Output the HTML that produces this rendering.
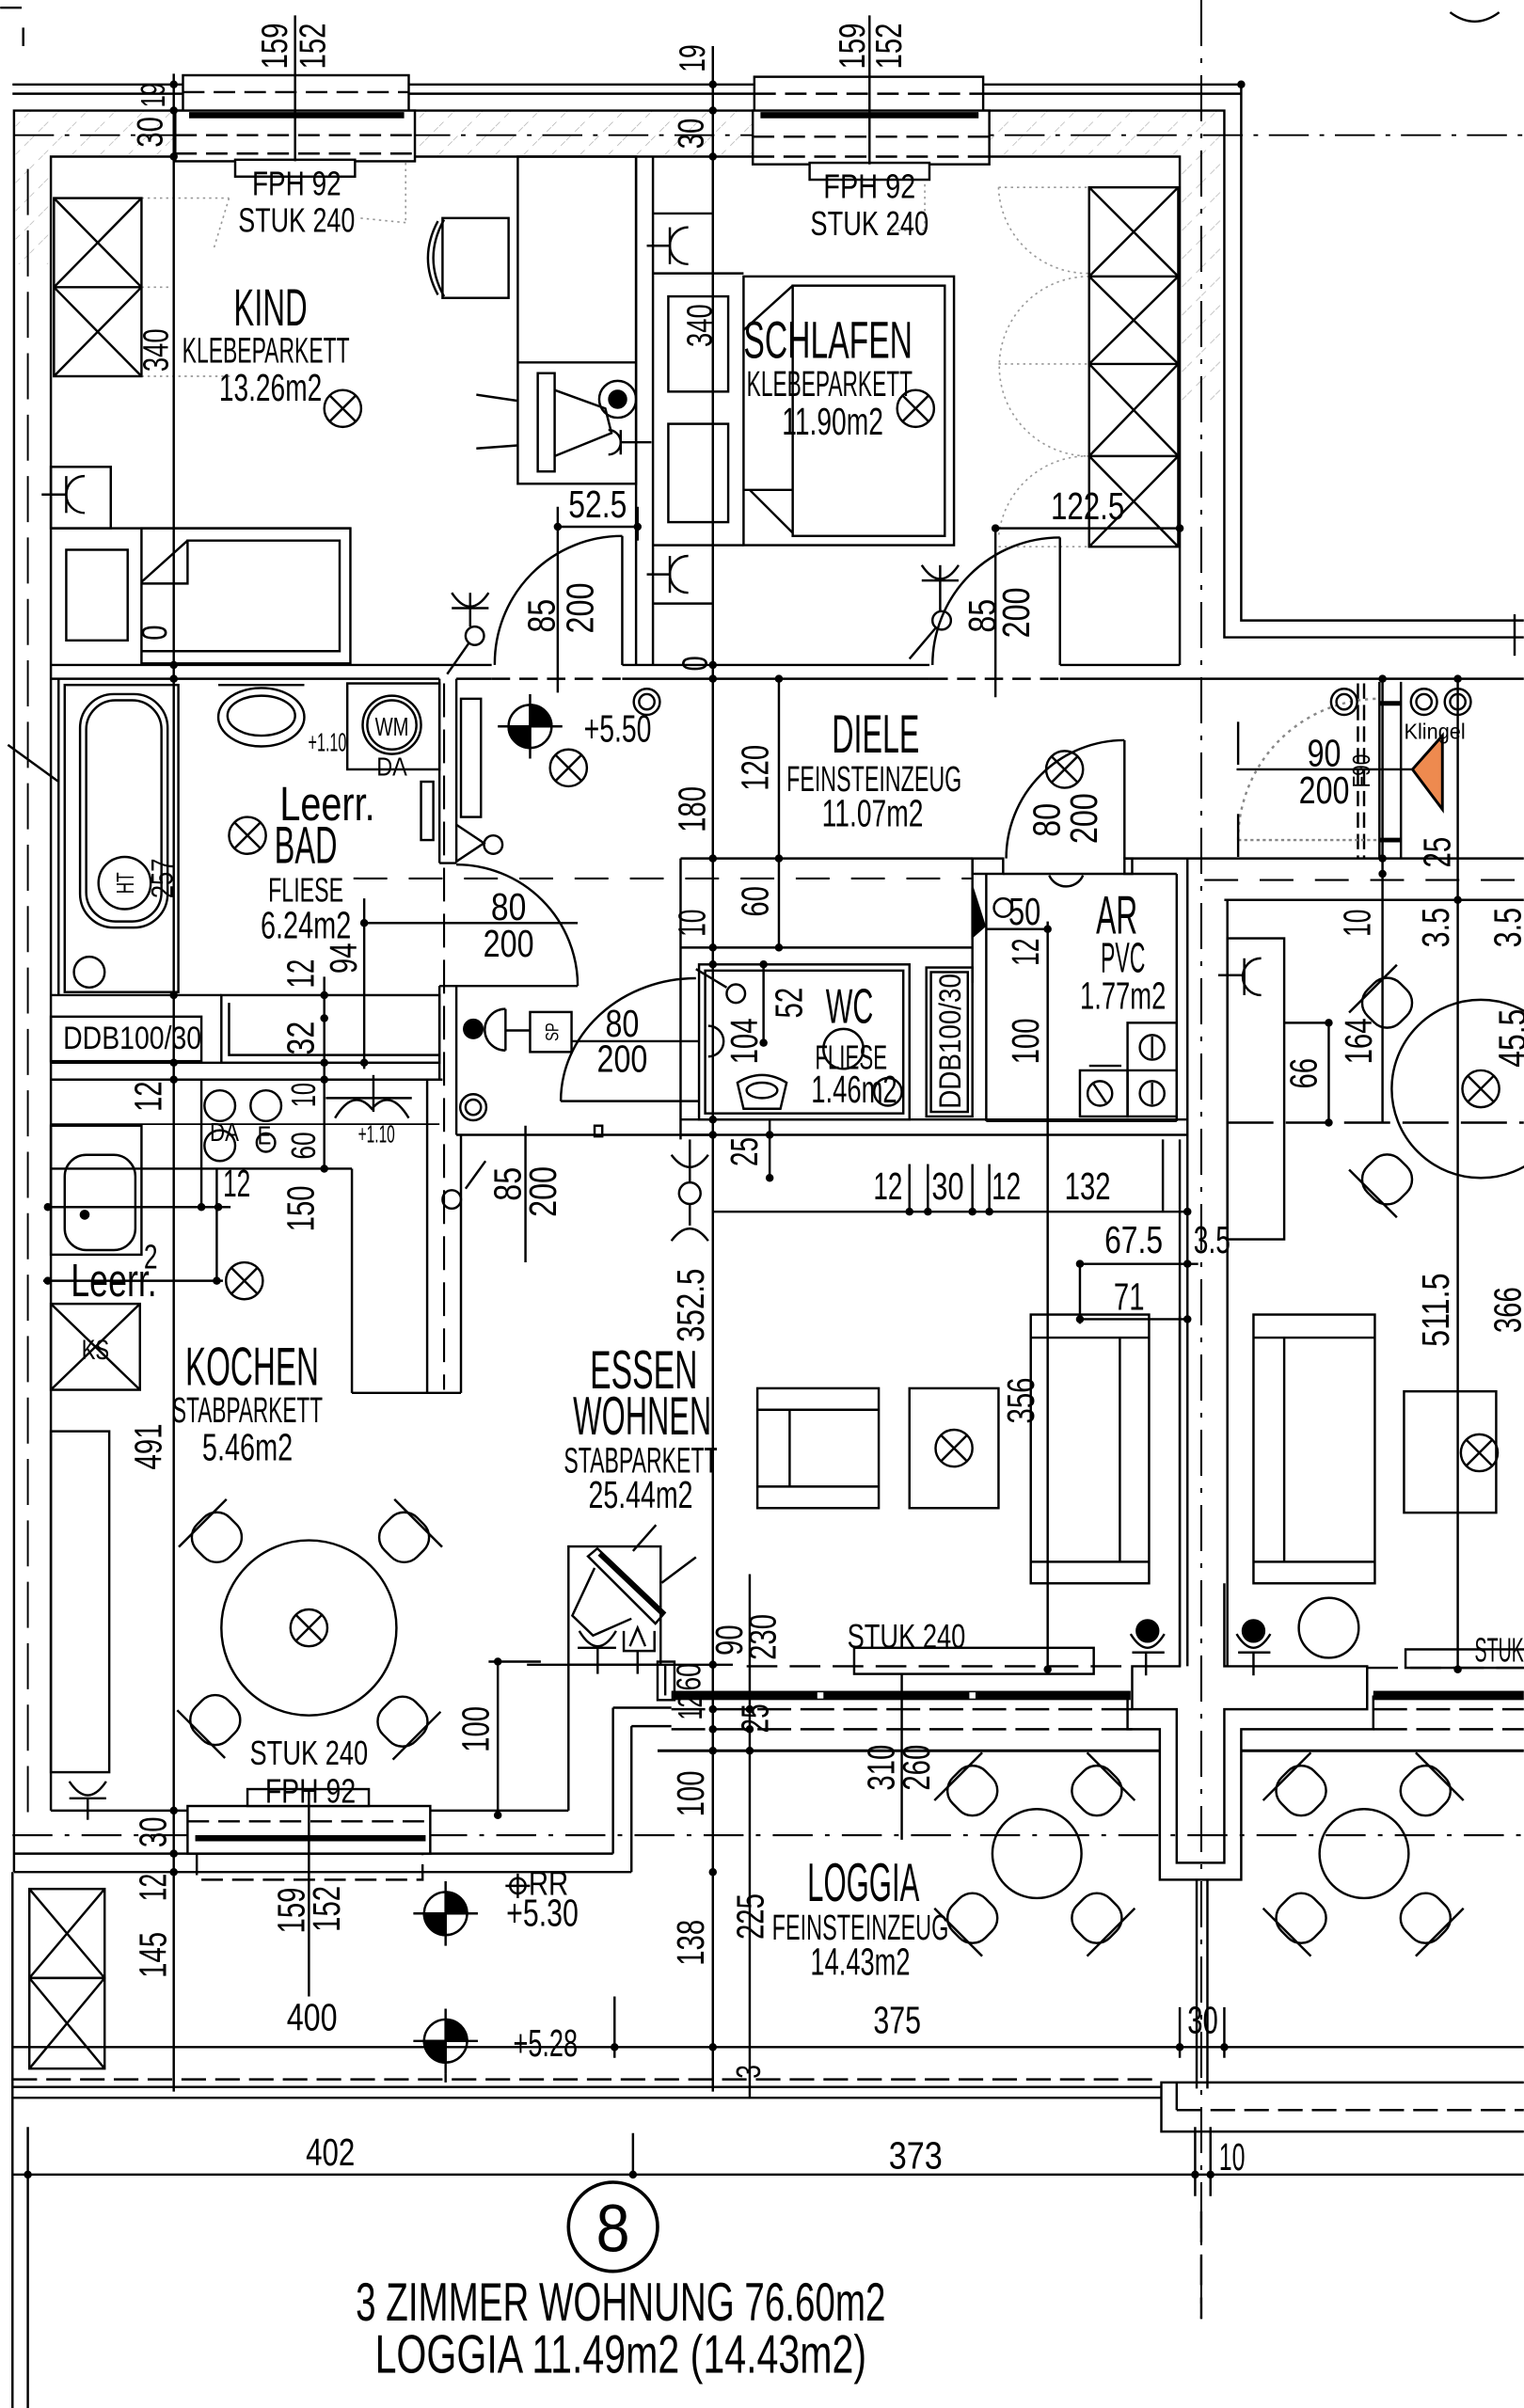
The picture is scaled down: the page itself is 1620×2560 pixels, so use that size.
<!DOCTYPE html>
<html><head><meta charset="utf-8">
<style>
html,body{margin:0;padding:0;background:#fff;}
svg{display:block;}
text{font-family:"Liberation Sans",sans-serif;fill:#000;stroke:none;}
</style></head><body>
<svg width="1620" height="2560" viewBox="0 0 992 1568" xmlns="http://www.w3.org/2000/svg">
<defs>
<pattern id="h" width="13" height="13" patternUnits="userSpaceOnUse" patternTransform="rotate(45)">
<line x1="0" y1="0" x2="0" y2="13" stroke="#aaa" stroke-width="0.8" stroke-dasharray="4 4"/>
</pattern>
<g id="ox"><circle r="12"/><line x1="-8.5" y1="-8.5" x2="8.5" y2="8.5"/><line x1="-8.5" y1="8.5" x2="8.5" y2="-8.5"/></g>
<circle id="d" r="2.6" fill="#000" stroke="none"/>
<g id="rg"><circle r="8.5"/><circle r="5"/></g>
<g id="lv"><circle r="14" fill="#fff"/><path d="M0,0 L14,0 A14,14 0 0 0 0,-14 Z M0,0 L-14,0 A14,14 0 0 0 0,14 Z" fill="#000"/><line x1="-21" y1="0" x2="21" y2="0"/><line x1="0" y1="-21" x2="0" y2="21"/></g>
<g id="ch"><rect x="-15" y="-15" width="30" height="30" rx="12"/><line x1="-22" y1="-13" x2="22" y2="-13"/></g>
</defs>
<rect width="992" height="1568" fill="#fff"/>

<!-- hatch bands -->
<g stroke="none" fill="url(#h)">
<rect x="9" y="72" width="105" height="30"/>
<rect x="270" y="72" width="220" height="30"/>
<rect x="644" y="72" width="153" height="30"/>
<rect x="9" y="102" width="24" height="70"/>
<rect x="768" y="102" width="29" height="160"/>
</g>

<!-- faint dotted swings -->
<g fill="none" stroke="#999" stroke-width="1" stroke-dasharray="1.5 2.5">
<line x1="92" y1="129" x2="149" y2="129"/>
<line x1="149" y1="129" x2="139" y2="162"/>
<line x1="92" y1="187" x2="112" y2="187"/>
<line x1="92" y1="245" x2="150" y2="245"/>
<line x1="264" y1="86" x2="264" y2="145"/>
<line x1="264" y1="145" x2="234" y2="142"/>
<line x1="650" y1="122" x2="709" y2="122"/>
<path d="M650,122 A58,58 0 0 0 709,178"/>
<path d="M709,180 A58,58 0 0 0 709,297"/>
<line x1="650" y1="237" x2="709" y2="237"/>
<path d="M709,297 A58,58 0 0 0 650,350"/>
<line x1="650" y1="356" x2="709" y2="356"/>
<line x1="602" y1="104" x2="602" y2="150"/>
<line x1="602" y1="150" x2="580" y2="150"/>
</g>

<g fill="none" stroke="#000" stroke-width="1.5">
<!-- top misc -->
<line x1="0" y1="5" x2="14" y2="5"/>
<line x1="15" y1="18" x2="15" y2="30"/>
<path d="M944,8 Q960,20 976,8"/>
<!-- facade -->
<polyline points="8,55 808,55 808,404 992,404"/>
<line x1="8" y1="61" x2="808" y2="61"/>
<polyline points="9,1219 9,72 797,72 797,415 992,415"/>
<line x1="986" y1="400" x2="986" y2="427"/>
<!-- axis lines -->
<line x1="9" y1="88" x2="992" y2="88" stroke-dasharray="26 7 3 7" stroke-width="1.2"/>
<line x1="782" y1="0" x2="782" y2="1510" stroke-dasharray="30 8 3 8" stroke-width="1.3"/>
<line x1="18" y1="110" x2="18" y2="1190" stroke-dasharray="30 10" stroke-width="1.2"/>
<line x1="289" y1="445" x2="289" y2="905" stroke-dasharray="22 8" stroke-width="1.3"/>
<line x1="230" y1="572" x2="633" y2="572" stroke-dasharray="22 14" stroke-width="1.3"/>
<line x1="784" y1="573" x2="992" y2="573" stroke-dasharray="22 14" stroke-width="1.3"/>
<line x1="8" y1="1195" x2="992" y2="1195" stroke-dasharray="26 8 3 8" stroke-width="1.3"/>

<!-- inner walls top -->
<polyline points="33,1179 33,102 768,102 768,433"/>
<line x1="414" y1="102" x2="414" y2="433"/>
<line x1="425" y1="102" x2="425" y2="433"/>

<!-- windows top -->
<rect x="119" y="49" width="147" height="24" fill="#fff"/>
<line x1="119" y1="60" x2="266" y2="60" stroke-dasharray="14 6"/>
<rect x="114" y="72" width="156" height="33" fill="#fff"/>
<line x1="123" y1="75" x2="263" y2="75" stroke-width="4"/>
<line x1="114" y1="88" x2="270" y2="88" stroke-dasharray="14 6"/>
<line x1="114" y1="100" x2="270" y2="100" stroke-dasharray="14 6"/>
<rect x="153" y="104" width="78" height="11" fill="#fff"/>
<line x1="192" y1="10" x2="192" y2="105"/>
<rect x="491" y="50" width="149" height="23" fill="#fff"/>
<line x1="491" y1="61" x2="640" y2="61" stroke-dasharray="14 6"/>
<rect x="490" y="72" width="154" height="35" fill="#fff"/>
<line x1="495" y1="75" x2="637" y2="75" stroke-width="4"/>
<line x1="490" y1="89" x2="644" y2="89" stroke-dasharray="14 6"/>
<line x1="490" y1="102" x2="644" y2="102" stroke-dasharray="14 6"/>
<rect x="527" y="106" width="78" height="11" fill="#fff"/>
<line x1="566" y1="10" x2="566" y2="107"/>

<!-- main dim verticals -->
<line x1="113" y1="48" x2="113" y2="1362"/>
<line x1="464" y1="30" x2="464" y2="1362"/>

<!-- KIND -->
<rect x="35" y="129" width="57" height="116"/>
<line x1="35" y1="187" x2="92" y2="187"/>
<path d="M35,129 L92,187 M92,129 L35,187 M35,187 L92,245 M92,187 L35,245"/>
<rect x="288" y="142" width="43" height="52"/>
<path d="M289,143 Q275,168 289,193 M285,144 Q272,168 285,192"/>
<rect x="337" y="102" width="77" height="213"/>
<line x1="337" y1="236" x2="414" y2="236"/>
<line x1="310" y1="257" x2="337" y2="261"/>
<line x1="310" y1="292" x2="337" y2="290"/>
<rect x="350" y="243" width="11" height="64"/>
<polyline points="361,254 394,266 398,282 361,297"/>
<circle cx="402" cy="260" r="12"/>
<circle cx="402" cy="260" r="5.5" fill="#000"/>
<path d="M396,280 A8,8 0 0 1 396,296"/>
<line x1="404" y1="280" x2="404" y2="296"/>
<line x1="404" y1="288" x2="424" y2="288"/>
<rect x="33" y="304" width="39" height="40"/>
<line x1="27" y1="322" x2="43" y2="322"/>
<line x1="43" y1="310" x2="43" y2="334"/>
<path d="M55,310 A12,12 0 0 0 55,334"/>
<line x1="33" y1="344" x2="228" y2="344"/>
<rect x="43" y="358" width="40" height="59"/>
<rect x="92" y="344" width="136" height="88"/>
<path d="M92,424 L221,424 L221,352 L122,352 L122,380 L92,380 M92,379 L122,352"/>
<line x1="405" y1="349" x2="405" y2="433"/>
<path d="M405,349 A83,83 0 0 0 322,433"/>
<line x1="363" y1="343" x2="415" y2="343"/>
<line x1="363" y1="330" x2="363" y2="451"/>
<line x1="415" y1="330" x2="415" y2="352"/>
<path d="M294,386 Q306,404 318,386"/>
<line x1="306" y1="386" x2="306" y2="408"/>
<line x1="294" y1="396" x2="318" y2="396"/>
<circle cx="309" cy="414" r="6"/>
<line x1="305" y1="419" x2="291" y2="439"/>

<!-- SCHLAFEN -->
<line x1="425" y1="139" x2="464" y2="139"/>
<line x1="425" y1="178" x2="484" y2="178"/>
<line x1="425" y1="355" x2="484" y2="355"/>
<line x1="425" y1="393" x2="464" y2="393"/>
<rect x="435" y="193" width="39" height="62"/>
<rect x="435" y="276" width="39" height="64"/>
<line x1="421" y1="160" x2="436" y2="160"/>
<line x1="436" y1="148" x2="436" y2="172"/>
<path d="M448,148 A12,12 0 0 0 448,172"/>
<line x1="421" y1="374" x2="436" y2="374"/>
<line x1="436" y1="362" x2="436" y2="386"/>
<path d="M448,362 A12,12 0 0 0 448,386"/>
<rect x="484" y="180" width="137" height="175"/>
<rect x="516" y="186" width="99" height="163"/>
<line x1="484" y1="215" x2="516" y2="186"/>
<line x1="484" y1="319" x2="516" y2="319"/>
<line x1="488" y1="319" x2="516" y2="347"/>
<rect x="709" y="122" width="58" height="234"/>
<line x1="709" y1="180" x2="767" y2="180"/>
<line x1="709" y1="237" x2="767" y2="237"/>
<line x1="709" y1="297" x2="767" y2="297"/>
<path d="M709,122 L767,180 M767,122 L709,180 M709,180 L767,237 M767,180 L709,237 M709,237 L767,297 M767,237 L709,297 M709,297 L767,356 M767,297 L709,356"/>
<line x1="690" y1="350" x2="690" y2="433"/>
<path d="M690,350 A83,83 0 0 0 607,433"/>
<line x1="648" y1="344" x2="768" y2="344"/>
<line x1="648" y1="344" x2="648" y2="454"/>
<path d="M600,368 Q612,386 624,368"/>
<line x1="612" y1="368" x2="612" y2="398"/>
<line x1="600" y1="378" x2="624" y2="378"/>
<circle cx="613" cy="404" r="6"/>
<line x1="609" y1="409" x2="592" y2="429"/>

<!-- walls KIND/BAD, SCHLAFEN/DIELE -->
<line x1="33" y1="433" x2="320" y2="433"/>
<line x1="405" y1="433" x2="605" y2="433"/>
<line x1="690" y1="433" x2="768" y2="433"/>
<line x1="33" y1="442" x2="286" y2="442"/>
<line x1="297" y1="442" x2="320" y2="442"/>
<line x1="405" y1="442" x2="605" y2="442"/>
<line x1="690" y1="442" x2="992" y2="442"/>
<line x1="320" y1="442" x2="405" y2="442" stroke-dasharray="12 6"/>
<line x1="605" y1="442" x2="690" y2="442" stroke-dasharray="12 6"/>
<line x1="5" y1="485" x2="38" y2="509"/>

<!-- BAD -->
<line x1="38" y1="442" x2="38" y2="648"/>
<rect x="42" y="446" width="74" height="200"/>
<rect x="52" y="452" width="57" height="152" rx="22"/>
<rect x="56" y="456" width="49" height="144" rx="19"/>
<circle cx="81" cy="575" r="17"/>
<circle cx="58" cy="633" r="10"/>
<line x1="142" y1="446" x2="198" y2="446"/>
<ellipse cx="170" cy="467" rx="28" ry="19"/>
<ellipse cx="170" cy="466" rx="22" ry="13"/>
<rect x="226" y="445" width="60" height="56"/>
<circle cx="255" cy="472" r="19"/>
<circle cx="255" cy="472" r="16"/>
<rect x="274" y="509" width="8" height="38"/>
<line x1="286" y1="442" x2="286" y2="562"/>
<line x1="297" y1="442" x2="297" y2="562"/>
<line x1="286" y1="562" x2="297" y2="562"/>
<line x1="286" y1="642" x2="286" y2="703"/>
<line x1="297" y1="642" x2="297" y2="739"/>
<line x1="286" y1="642" x2="376" y2="642"/>
<path d="M297,563 A79,79 0 0 1 376,642"/>
<line x1="237" y1="601" x2="376" y2="601"/>
<line x1="237" y1="585" x2="237" y2="696"/>
<line x1="211" y1="636" x2="211" y2="761"/>
<line x1="33" y1="648" x2="144" y2="648"/>
<rect x="144" y="648" width="142" height="44"/>
<polyline points="149,653 149,687 286,687"/>
<rect x="33" y="662" width="98" height="29"/>
<line x1="33" y1="692" x2="144" y2="692"/>
<line x1="33" y1="703" x2="288" y2="703"/>

<!-- hall left -->
<rect x="300" y="455" width="13" height="77"/>
<polyline points="297,537 315,549 297,561"/>
<circle cx="321" cy="550" r="6"/>
<circle cx="308" cy="670" r="6" fill="#000"/>
<line x1="329" y1="657" x2="329" y2="684"/>
<path d="M329,657 A13,13 0 0 0 329,684"/>
<line x1="329" y1="671" x2="345" y2="671"/>
<rect x="345" y="659" width="27" height="26"/>
<line x1="372" y1="678" x2="455" y2="678"/>
<line x1="365" y1="717" x2="455" y2="717"/>
<path d="M365,717 A88,80 0 0 1 453,637"/>
<line x1="297" y1="739" x2="465" y2="739"/>
<rect x="387" y="733" width="5" height="7"/>
<line x1="342" y1="733" x2="342" y2="822"/>
<line x1="300" y1="739" x2="300" y2="907"/>
<line x1="278" y1="703" x2="278" y2="907"/>
<path d="M303,774 L316,756"/>
<circle cx="294" cy="781" r="6"/>
<path d="M437,752 Q449,768 461,752"/>
<line x1="449" y1="742" x2="449" y2="770"/>
<circle cx="449" cy="777" r="7"/>
<line x1="449" y1="784" x2="449" y2="798"/>
<path d="M437,808 Q449,792 461,808"/>

<!-- kitchen top -->
<line x1="33" y1="732" x2="286" y2="732" stroke-width="1.1"/>
<line x1="131" y1="703" x2="131" y2="786"/>
<line x1="33" y1="761" x2="229" y2="761"/>
<line x1="229" y1="761" x2="229" y2="907"/>
<line x1="229" y1="907" x2="300" y2="907"/>
<line x1="31" y1="786" x2="150" y2="786"/>
<line x1="141" y1="761" x2="141" y2="834"/>
<line x1="28" y1="834" x2="145" y2="834"/>
<circle cx="143" cy="720" r="10"/>
<circle cx="143" cy="746" r="10"/>
<circle cx="173" cy="720" r="10"/>
<circle cx="173" cy="744" r="6"/>
<path d="M218,728 Q230,708 242,722 Q254,708 266,728"/>
<line x1="243" y1="700" x2="243" y2="724"/>
<line x1="212" y1="715" x2="268" y2="715"/>
<rect x="33" y="733" width="59" height="84"/>
<rect x="42" y="752" width="46" height="62" rx="14"/>
<circle cx="55" cy="791" r="2.5" fill="#000"/>
<rect x="33" y="849" width="58" height="56"/>
<path d="M33,849 L91,905 M91,849 L33,905"/>

<!-- kitchen lower -->
<rect x="33" y="932" width="38" height="222"/>
<path d="M45,1160 Q57,1178 69,1160"/>
<line x1="45" y1="1171" x2="69" y2="1171"/>
<line x1="57" y1="1171" x2="57" y2="1185"/>
<circle cx="201" cy="1060" r="57"/>
<use href="#ox" x="201" y="1060"/>
<use href="#ch" transform="translate(141,1001) rotate(-45)"/>
<use href="#ch" transform="translate(263,1001) rotate(45)"/>
<use href="#ch" transform="translate(140,1120) rotate(-135)"/>
<use href="#ch" transform="translate(262,1121) rotate(135)"/>
<line x1="33" y1="1179" x2="122" y2="1179"/>
<line x1="280" y1="1179" x2="370" y2="1179"/>
<line x1="370" y1="1084" x2="370" y2="1179"/>
<line x1="343" y1="1084" x2="477" y2="1084"/>
<line x1="433" y1="1084" x2="433" y2="1104"/>
<line x1="9" y1="1207" x2="399" y2="1207"/>
<line x1="399" y1="1112" x2="399" y2="1207"/>
<line x1="399" y1="1112" x2="437" y2="1112"/>
<line x1="9" y1="1219" x2="411" y2="1219"/>
<line x1="411" y1="1124" x2="411" y2="1219"/>
<line x1="411" y1="1124" x2="437" y2="1124"/>
<rect x="122" y="1176" width="158" height="31" fill="#fff"/>
<line x1="122" y1="1186" x2="280" y2="1186" stroke-dasharray="14 6"/>
<line x1="127" y1="1197" x2="277" y2="1197" stroke-width="4"/>
<polyline points="128,1207 128,1224 275,1224 275,1207" stroke-dasharray="14 6"/>
<rect x="161" y="1165" width="79" height="11" fill="#fff"/>
<line x1="201" y1="1165" x2="201" y2="1300"/>
<line x1="324" y1="1082" x2="324" y2="1182"/>
<line x1="318" y1="1082" x2="352" y2="1082"/>

<!-- TV -->
<rect x="370" y="1007" width="60" height="77"/>
<polygon points="382.7,1013.4 388.8,1008.3 432.7,1050.1 426.6,1057.2"/>
<line x1="390" y1="1012" x2="431" y2="1051" stroke-width="2.5"/>
<polyline points="387,1021 372.5,1052 386,1065 411,1054"/>
<path d="M377,1062 Q389,1082 401,1062"/>
<line x1="376" y1="1073" x2="401" y2="1073"/>
<line x1="389" y1="1073" x2="389" y2="1090"/>
<polyline points="406,1062 406,1075 426,1075 426,1062"/>
<path d="M410,1072 L415,1060 L420,1072"/>
<line x1="415" y1="1075" x2="415" y2="1090"/>
<line x1="412" y1="1010" x2="427" y2="993"/>
<line x1="430.7" y1="1030.7" x2="453" y2="1014"/>

<!-- DIELE -->
<line x1="443" y1="559" x2="633" y2="559"/>
<line x1="443" y1="617" x2="633" y2="617"/>
<line x1="443" y1="559" x2="443" y2="742"/>
<line x1="507" y1="441" x2="507" y2="619"/>
<use href="#lv" x="345" y="473"/>
<use href="#ox" x="370" y="500"/>
<use href="#rg" x="421" y="457"/>
<use href="#ox" x="693" y="501"/>
<use href="#rg" x="308" y="721"/>

<!-- AR -->
<line x1="633" y1="559" x2="633" y2="640"/>
<polygon points="633,578 641,603 633,610" fill="#000"/>
<rect x="633" y="559" width="20" height="10"/>
<rect x="732" y="559" width="5" height="10"/>
<line x1="732" y1="559" x2="992" y2="559"/>
<line x1="732" y1="482" x2="732" y2="559"/>
<path d="M732,482 A77,77 0 0 0 655,559"/>
<line x1="642" y1="569" x2="642" y2="730"/>
<line x1="653" y1="569" x2="766" y2="569"/>
<line x1="766" y1="569" x2="766" y2="730"/>
<line x1="642" y1="730" x2="766" y2="730"/>
<line x1="773" y1="559" x2="773" y2="1085"/>
<line x1="768" y1="742" x2="768" y2="1085"/>
<line x1="642" y1="605" x2="682" y2="605"/>
<circle cx="653" cy="591" r="6"/>
<path d="M683,570 A12,12 0 0 0 705,570"/>
<line x1="682" y1="600" x2="682" y2="1087"/>
<rect x="734" y="666" width="32" height="61"/>
<line x1="734" y1="697" x2="766" y2="697"/>
<rect x="703" y="697" width="31" height="30"/>
<line x1="709" y1="694" x2="730" y2="694"/>
<circle cx="750" cy="682" r="8"/><line x1="750" y1="675" x2="750" y2="689"/>
<circle cx="750" cy="712" r="8"/><line x1="750" y1="705" x2="750" y2="719"/>
<circle cx="716" cy="712" r="8"/><line x1="712" y1="706" x2="720" y2="718"/>

<!-- WC -->
<rect x="455" y="628" width="137" height="101"/>
<rect x="459" y="632" width="129" height="93"/>
<path d="M461,668 A10,10 0 0 1 461,688"/>
<line x1="453" y1="631" x2="473" y2="643"/>
<circle cx="479" cy="647" r="6"/>
<line x1="497" y1="627" x2="497" y2="680"/>
<path d="M480,705 Q496,695 512,705 L508,722 L484,722 Z"/>
<ellipse cx="496" cy="710" rx="10" ry="5"/>
<circle cx="549" cy="683" r="13"/>
<circle cx="578" cy="711" r="9"/>
<rect x="603" y="630" width="30" height="97"/>
<rect x="606" y="633" width="24" height="91"/>
<line x1="443" y1="729" x2="773" y2="729"/>
<line x1="443" y1="739" x2="773" y2="739"/>
<line x1="501" y1="729" x2="501" y2="767"/>
<line x1="464" y1="789" x2="773" y2="789"/>
<line x1="757" y1="742" x2="757" y2="789"/>
<line x1="592" y1="758" x2="592" y2="789"/>
<line x1="604" y1="758" x2="604" y2="789"/>
<line x1="633" y1="758" x2="633" y2="789"/>
<line x1="644" y1="758" x2="644" y2="789"/>
<line x1="703" y1="823" x2="780" y2="823"/>
<line x1="703" y1="859" x2="773" y2="859"/>
<line x1="703" y1="823" x2="703" y2="862"/>

<!-- entry -->
<line x1="898" y1="444" x2="898" y2="559"/>
<line x1="912" y1="444" x2="912" y2="559"/>
<line x1="898" y1="458" x2="912" y2="458" stroke-width="3"/>
<line x1="898" y1="547" x2="912" y2="547" stroke-width="3"/>
<line x1="884" y1="445" x2="884" y2="559" stroke-dasharray="10 4"/>
<line x1="888" y1="445" x2="888" y2="559" stroke-dasharray="10 4"/>
<line x1="805" y1="501" x2="920" y2="501"/>
<path d="M806,547 A92,92 0 0 1 898,455" stroke="#888" stroke-dasharray="2 3"/>
<line x1="806" y1="547" x2="898" y2="547" stroke="#888" stroke-dasharray="2 2"/>
<line x1="806" y1="470" x2="806" y2="498"/>
<line x1="806" y1="530" x2="806" y2="558"/>
<polygon points="919.5,501 939,479 939,527" fill="#ee8a4f" stroke="#000" stroke-width="1.8"/>
<use href="#rg" x="875" y="457"/>
<use href="#rg" x="927" y="457"/>
<use href="#rg" x="949" y="457"/>
<line x1="900" y1="441" x2="900" y2="731"/>
<line x1="949" y1="442" x2="949" y2="1087"/>
<line x1="797" y1="586" x2="992" y2="586"/>
<line x1="799" y1="586" x2="799" y2="1085"/>

<!-- neighbor -->
<rect x="799" y="611" width="37" height="196"/>
<line x1="793" y1="635" x2="810" y2="635"/>
<line x1="810" y1="624" x2="810" y2="648"/>
<path d="M821,624 A12,12 0 0 0 821,648"/>
<line x1="836" y1="666" x2="865" y2="666"/>
<line x1="865" y1="666" x2="865" y2="731"/>
<line x1="799" y1="731" x2="992" y2="731" stroke-dasharray="30 8"/>
<circle cx="964" cy="709" r="58"/>
<use href="#ox" x="964" y="709"/>
<use href="#ch" transform="translate(903,653) rotate(-45)"/>
<use href="#ch" transform="translate(903,768) rotate(-135)"/>

<!-- living -->
<rect x="493" y="904" width="79" height="78"/>
<line x1="514" y1="918" x2="514" y2="968"/>
<line x1="493" y1="918" x2="572" y2="918"/>
<line x1="493" y1="968" x2="572" y2="968"/>
<rect x="592" y="904" width="58" height="78"/>
<use href="#ox" x="621" y="943"/>
<rect x="671" y="856" width="77" height="175"/>
<line x1="671" y1="871" x2="748" y2="871"/>
<line x1="671" y1="1017" x2="748" y2="1017"/>
<line x1="729" y1="871" x2="729" y2="1017"/>
<rect x="816" y="856" width="79" height="175"/>
<line x1="816" y1="871" x2="895" y2="871"/>
<line x1="816" y1="1017" x2="895" y2="1017"/>
<line x1="836" y1="871" x2="836" y2="1017"/>
<rect x="914" y="906" width="60" height="79"/>
<use href="#ox" x="963" y="946"/>
<circle cx="747" cy="1062" r="7" fill="#000"/>
<path d="M736,1064 Q747,1082 758,1064"/>
<line x1="737" y1="1076" x2="758" y2="1076"/>
<line x1="746" y1="1076" x2="746" y2="1091"/>
<circle cx="816" cy="1062" r="7" fill="#000"/>
<path d="M805,1064 Q816,1082 827,1064"/>
<line x1="806" y1="1076" x2="827" y2="1076"/>
<line x1="816" y1="1076" x2="816" y2="1091"/>
<circle cx="865" cy="1060" r="19.5"/>
<rect x="556" y="1073" width="156" height="17"/>
<rect x="915" y="1074" width="80" height="12"/>
<line x1="486" y1="1085" x2="737" y2="1085" stroke-dasharray="20 8"/>
<line x1="890" y1="1086" x2="992" y2="1086" stroke-dasharray="20 8"/>
<line x1="488" y1="1025" x2="488" y2="1366"/>
<rect x="428" y="1082" width="11" height="25"/>
<rect x="437" y="1101" width="299" height="6" fill="#000" stroke="none"/>
<rect x="894" y="1101" width="98" height="6" fill="#000" stroke="none"/>
<rect x="532" y="1102" width="4" height="4" fill="#fff" stroke="none"/>
<rect x="631" y="1102" width="4" height="4" fill="#fff" stroke="none"/>
<line x1="437" y1="1113" x2="737" y2="1113" stroke-dasharray="22 6"/>
<line x1="437" y1="1126" x2="737" y2="1126" stroke-dasharray="22 6"/>
<line x1="894" y1="1113" x2="992" y2="1113" stroke-dasharray="22 6"/>
<line x1="894" y1="1126" x2="992" y2="1126" stroke-dasharray="22 6"/>
<line x1="428" y1="1140" x2="755" y2="1140" stroke-width="1.8"/>
<line x1="808" y1="1140" x2="992" y2="1140" stroke-width="1.8"/>
<line x1="587" y1="1090" x2="587" y2="1198"/>
<!-- pillar -->
<path d="M768,857 L768,1085 L737,1085 L737,1113 L766,1113 L766,1213 L797,1213 L797,1113 L890,1113 L890,1085 L797,1085 L797,1031"/>
<path d="M734,1104 L734,1126 L755,1126 L755,1224 L808,1224 L808,1126 L894,1126 L894,1104"/>
<line x1="779" y1="1224" x2="779" y2="1360"/>
<line x1="786" y1="1224" x2="786" y2="1360"/>

<!-- loggia -->
<circle cx="675" cy="1207" r="29"/>
<use href="#ch" transform="translate(633,1166) rotate(-45)"/>
<use href="#ch" transform="translate(714,1166) rotate(45)"/>
<use href="#ch" transform="translate(633,1249) rotate(-135)"/>
<use href="#ch" transform="translate(714,1249) rotate(135)"/>
<circle cx="888" cy="1207" r="29"/>
<use href="#ch" transform="translate(847,1166) rotate(-45)"/>
<use href="#ch" transform="translate(928,1166) rotate(45)"/>
<use href="#ch" transform="translate(847,1249) rotate(-135)"/>
<use href="#ch" transform="translate(928,1249) rotate(135)"/>
<rect x="19" y="1230" width="49" height="58"/>
<rect x="19" y="1288" width="49" height="59"/>
<path d="M19,1230 L68,1288 M68,1230 L19,1288 M19,1288 L68,1347 M68,1288 L19,1347"/>
<use href="#lv" x="290" y="1246"/>
<use href="#lv" x="290" y="1329"/>
<line x1="290" y1="1350" x2="290" y2="1356"/>
<circle cx="337" cy="1228" r="5"/>
<line x1="329" y1="1228" x2="345" y2="1228"/>
<line x1="337" y1="1220" x2="337" y2="1236"/>
<line x1="8" y1="1333" x2="992" y2="1333"/>
<line x1="400" y1="1300" x2="400" y2="1340"/>
<line x1="768" y1="1307" x2="768" y2="1340"/>
<line x1="797" y1="1307" x2="797" y2="1340"/>
<line x1="8" y1="1354" x2="756" y2="1354" stroke-dasharray="16 6"/>
<line x1="8" y1="1359" x2="756" y2="1359"/>
<line x1="8" y1="1366" x2="756" y2="1366"/>
<polyline points="992,1356 756,1356 756,1388 992,1388"/>
<line x1="766" y1="1374" x2="992" y2="1374" stroke-dasharray="16 6"/>
<line x1="766" y1="1356" x2="766" y2="1374"/>
<line x1="8" y1="1219" x2="8" y2="1568"/>
<line x1="18" y1="1385" x2="18" y2="1568"/>
<line x1="8" y1="1416" x2="992" y2="1416"/>
<line x1="412" y1="1389" x2="412" y2="1416"/>
<line x1="778" y1="1385" x2="778" y2="1430"/>
<line x1="788" y1="1385" x2="788" y2="1430"/>
<line x1="782" y1="1440" x2="782" y2="1510" stroke-dasharray="20 8"/>
<circle cx="399" cy="1450" r="29" stroke-width="2.2"/>

<!-- dots -->
<g>
<use href="#d" x="113" y="55"/><use href="#d" x="113" y="72"/><use href="#d" x="113" y="102"/><use href="#d" x="113" y="433"/><use href="#d" x="113" y="442"/><use href="#d" x="113" y="648"/><use href="#d" x="113" y="692"/><use href="#d" x="113" y="703"/><use href="#d" x="113" y="1179"/><use href="#d" x="113" y="1207"/><use href="#d" x="113" y="1219"/>
<use href="#d" x="464" y="55"/><use href="#d" x="464" y="72"/><use href="#d" x="464" y="102"/><use href="#d" x="464" y="433"/><use href="#d" x="464" y="442"/><use href="#d" x="464" y="559"/><use href="#d" x="464" y="617"/><use href="#d" x="464" y="628"/><use href="#d" x="464" y="729"/><use href="#d" x="464" y="739"/><use href="#d" x="464" y="1084"/><use href="#d" x="464" y="1104"/><use href="#d" x="464" y="1113"/><use href="#d" x="464" y="1126"/><use href="#d" x="464" y="1140"/><use href="#d" x="464" y="1219"/><use href="#d" x="464" y="1333"/>
<use href="#d" x="363" y="343"/><use href="#d" x="415" y="343"/><use href="#d" x="648" y="344"/><use href="#d" x="768" y="344"/>
<use href="#d" x="507" y="442"/><use href="#d" x="507" y="559"/><use href="#d" x="507" y="617"/>
<use href="#d" x="211" y="648"/><use href="#d" x="211" y="663"/><use href="#d" x="211" y="692"/><use href="#d" x="211" y="703"/><use href="#d" x="211" y="761"/>
<use href="#d" x="237" y="601"/><use href="#d" x="237" y="692"/>
<use href="#d" x="131" y="786"/><use href="#d" x="142" y="786"/><use href="#d" x="141" y="834"/><use href="#d" x="31" y="834"/><use href="#d" x="31" y="786"/>
<use href="#d" x="497" y="628"/><use href="#d" x="497" y="679"/><use href="#d" x="501" y="739"/><use href="#d" x="501" y="767"/>
<use href="#d" x="592" y="789"/><use href="#d" x="604" y="789"/><use href="#d" x="633" y="789"/><use href="#d" x="644" y="789"/><use href="#d" x="773" y="789"/>
<use href="#d" x="703" y="823"/><use href="#d" x="773" y="823"/><use href="#d" x="703" y="859"/><use href="#d" x="773" y="859"/>
<use href="#d" x="682" y="605"/><use href="#d" x="682" y="1087"/><use href="#d" x="949" y="1087"/>
<use href="#d" x="900" y="442"/><use href="#d" x="900" y="559"/><use href="#d" x="900" y="569"/><use href="#d" x="949" y="442"/><use href="#d" x="949" y="586"/>
<use href="#d" x="865" y="666"/><use href="#d" x="865" y="731"/>
<use href="#d" x="324" y="1082"/><use href="#d" x="324" y="1182"/>
<use href="#d" x="488" y="1113"/><use href="#d" x="488" y="1126"/><use href="#d" x="488" y="1140"/>
<use href="#d" x="768" y="1333"/><use href="#d" x="797" y="1333"/><use href="#d" x="400" y="1333"/>
<use href="#d" x="18" y="1416"/><use href="#d" x="412" y="1416"/><use href="#d" x="778" y="1416"/><use href="#d" x="788" y="1416"/>
<use href="#d" x="808" y="55"/>
</g>
</g>

<!-- TEXT -->
<g text-anchor="middle" font-size="25" lengthAdjust="spacingAndGlyphs">
<text transform="translate(178,30) rotate(-90)" dy="0.36em" font-size="24" textLength="30" lengthAdjust="spacingAndGlyphs">159</text>
<text transform="translate(203,30) rotate(-90)" dy="0.36em" font-size="24" textLength="30" lengthAdjust="spacingAndGlyphs">152</text>
<text transform="translate(554,30) rotate(-90)" dy="0.36em" font-size="24" textLength="30" lengthAdjust="spacingAndGlyphs">159</text>
<text transform="translate(578,30) rotate(-90)" dy="0.36em" font-size="24" textLength="30" lengthAdjust="spacingAndGlyphs">152</text>
<text transform="translate(450,38) rotate(-90)" dy="0.36em" font-size="24" textLength="18" lengthAdjust="spacingAndGlyphs">19</text>
<text transform="translate(449,87) rotate(-90)" dy="0.36em" font-size="24" textLength="20" lengthAdjust="spacingAndGlyphs">30</text>
<text transform="translate(97,86) rotate(-90)" dy="0.36em" font-size="24" textLength="20" lengthAdjust="spacingAndGlyphs">30</text>
<text transform="translate(99,62) rotate(-90)" dy="0.36em" font-size="22" textLength="16" lengthAdjust="spacingAndGlyphs">19</text>

<text x="193" y="127" font-size="22" textLength="58" lengthAdjust="spacingAndGlyphs">FPH 92</text>
<text x="193" y="151" font-size="22" textLength="76" lengthAdjust="spacingAndGlyphs">STUK 240</text>
<text x="566" y="129" font-size="22" textLength="60" lengthAdjust="spacingAndGlyphs">FPH 92</text>
<text x="566" y="153" font-size="22" textLength="77" lengthAdjust="spacingAndGlyphs">STUK 240</text>

<text x="176" y="212" font-size="34" textLength="48" lengthAdjust="spacingAndGlyphs">KIND</text>
<text x="173" y="236" font-size="23" textLength="109" lengthAdjust="spacingAndGlyphs">KLEBEPARKETT</text>
<text x="176" y="261" font-size="25" textLength="67" lengthAdjust="spacingAndGlyphs">13.26m2</text>
<text transform="translate(101,228) rotate(-90)" dy="0.36em" font-size="23" textLength="28" lengthAdjust="spacingAndGlyphs">340</text>
<text transform="translate(100,412) rotate(-90)" dy="0.36em" font-size="23" textLength="10" lengthAdjust="spacingAndGlyphs">0</text>
<text x="389" y="337" textLength="38" lengthAdjust="spacingAndGlyphs">52.5</text>
<text transform="translate(352,401) rotate(-90)" dy="0.36em" textLength="22" lengthAdjust="spacingAndGlyphs">85</text>
<text transform="translate(377,396) rotate(-90)" dy="0.36em" textLength="33" lengthAdjust="spacingAndGlyphs">200</text>

<text x="539" y="233" font-size="34" textLength="110" lengthAdjust="spacingAndGlyphs">SCHLAFEN</text>
<text x="540" y="258" font-size="23" textLength="108" lengthAdjust="spacingAndGlyphs">KLEBEPARKETT</text>
<text x="542" y="283" font-size="25" textLength="66" lengthAdjust="spacingAndGlyphs">11.90m2</text>
<text transform="translate(455,212) rotate(-90)" dy="0.36em" font-size="23" textLength="28" lengthAdjust="spacingAndGlyphs">340</text>
<text transform="translate(452,432) rotate(-90)" dy="0.36em" font-size="23" textLength="10" lengthAdjust="spacingAndGlyphs">0</text>
<text x="708" y="338" textLength="48" lengthAdjust="spacingAndGlyphs">122.5</text>
<text transform="translate(639,401) rotate(-90)" dy="0.36em" textLength="22" lengthAdjust="spacingAndGlyphs">85</text>
<text transform="translate(661,399) rotate(-90)" dy="0.36em" textLength="33" lengthAdjust="spacingAndGlyphs">200</text>

<text x="213" y="534" font-size="31" textLength="62" lengthAdjust="spacingAndGlyphs">Leerr.</text>
<text x="199" y="562" font-size="34" textLength="41" lengthAdjust="spacingAndGlyphs">BAD</text>
<text x="199" y="587" font-size="22" textLength="49" lengthAdjust="spacingAndGlyphs">FLIESE</text>
<text x="199" y="611" font-size="25" textLength="59" lengthAdjust="spacingAndGlyphs">6.24m2</text>
<text x="213" y="489" font-size="17" textLength="25" lengthAdjust="spacingAndGlyphs">+1.10</text>
<text x="255" y="479" font-size="17" textLength="22" lengthAdjust="spacingAndGlyphs">WM</text>
<text x="255" y="505" font-size="17" textLength="20" lengthAdjust="spacingAndGlyphs">DA</text>
<text x="402" y="483" textLength="44" lengthAdjust="spacingAndGlyphs">+5.50</text>
<text x="331" y="599" textLength="23" lengthAdjust="spacingAndGlyphs">80</text>
<text x="331" y="623" textLength="33" lengthAdjust="spacingAndGlyphs">200</text>
<text transform="translate(105,572) rotate(-90)" dy="0.36em" font-size="20" textLength="26" lengthAdjust="spacingAndGlyphs">257</text>
<text transform="translate(81,575) rotate(-90)" dy="0.36em" font-size="16" textLength="14" lengthAdjust="spacingAndGlyphs">HT</text>
<text transform="translate(195,634) rotate(-90)" dy="0.36em" textLength="19" lengthAdjust="spacingAndGlyphs">12</text>
<text transform="translate(223,624) rotate(-90)" dy="0.36em" textLength="20" lengthAdjust="spacingAndGlyphs">94</text>
<text transform="translate(195,676) rotate(-90)" dy="0.36em" textLength="22" lengthAdjust="spacingAndGlyphs">32</text>
<text x="86" y="683" font-size="21" textLength="90" lengthAdjust="spacingAndGlyphs">DDB100/30</text>
<text transform="translate(96,714) rotate(-90)" dy="0.36em" textLength="20" lengthAdjust="spacingAndGlyphs">12</text>
<text transform="translate(197,713) rotate(-90)" dy="0.36em" font-size="22" textLength="16" lengthAdjust="spacingAndGlyphs">10</text>
<text transform="translate(197,746) rotate(-90)" dy="0.36em" font-size="22" textLength="18" lengthAdjust="spacingAndGlyphs">60</text>
<text x="245" y="744" font-size="16" textLength="24" lengthAdjust="spacingAndGlyphs">+1.10</text>
<text x="146" y="743" font-size="17" textLength="19" lengthAdjust="spacingAndGlyphs">DA</text>
<text x="172" y="745" font-size="17" textLength="9" lengthAdjust="spacingAndGlyphs">E</text>
<text x="154" y="779" textLength="18" lengthAdjust="spacingAndGlyphs">12</text>
<text transform="translate(195,787) rotate(-90)" dy="0.36em" textLength="30" lengthAdjust="spacingAndGlyphs">150</text>
<text x="74" y="844" font-size="30" textLength="56" lengthAdjust="spacingAndGlyphs">Leerr.</text>
<text x="98" y="826" font-size="22" textLength="9" lengthAdjust="spacingAndGlyphs">2</text>
<text x="62" y="885" font-size="18" textLength="18" lengthAdjust="spacingAndGlyphs">KS</text>

<text transform="translate(450,527) rotate(-90)" dy="0.36em" textLength="30" lengthAdjust="spacingAndGlyphs">180</text>
<text transform="translate(491,500) rotate(-90)" dy="0.36em" textLength="30" lengthAdjust="spacingAndGlyphs">120</text>
<text transform="translate(491,587) rotate(-90)" dy="0.36em" textLength="20" lengthAdjust="spacingAndGlyphs">60</text>
<text transform="translate(450,601) rotate(-90)" dy="0.36em" textLength="18" lengthAdjust="spacingAndGlyphs">10</text>
<text x="570" y="490" font-size="35" textLength="57" lengthAdjust="spacingAndGlyphs">DIELE</text>
<text x="569" y="515" font-size="23" textLength="114" lengthAdjust="spacingAndGlyphs">FEINSTEINZEUG</text>
<text x="568" y="538" textLength="66" lengthAdjust="spacingAndGlyphs">11.07m2</text>
<text transform="translate(681,534) rotate(-90)" dy="0.36em" textLength="22" lengthAdjust="spacingAndGlyphs">80</text>
<text transform="translate(705,533) rotate(-90)" dy="0.36em" textLength="33" lengthAdjust="spacingAndGlyphs">200</text>
<text x="667" y="602" textLength="21" lengthAdjust="spacingAndGlyphs">50</text>
<text x="727" y="608" font-size="35" textLength="27" lengthAdjust="spacingAndGlyphs">AR</text>
<text x="731" y="633" font-size="28" textLength="29" lengthAdjust="spacingAndGlyphs">PVC</text>
<text x="731" y="657" textLength="56" lengthAdjust="spacingAndGlyphs">1.77m2</text>
<text transform="translate(667,620) rotate(-90)" dy="0.36em" textLength="18" lengthAdjust="spacingAndGlyphs">12</text>
<text transform="translate(667,678) rotate(-90)" dy="0.36em" textLength="30" lengthAdjust="spacingAndGlyphs">100</text>
<text x="553" y="666" font-size="32" textLength="31" lengthAdjust="spacingAndGlyphs">WC</text>
<text x="554" y="696" font-size="22" textLength="47" lengthAdjust="spacingAndGlyphs">FLIESE</text>
<text x="556" y="718" textLength="56" lengthAdjust="spacingAndGlyphs">1.46m2</text>
<text transform="translate(484,678) rotate(-90)" dy="0.36em" textLength="30" lengthAdjust="spacingAndGlyphs">104</text>
<text transform="translate(513,653) rotate(-90)" dy="0.36em" textLength="20" lengthAdjust="spacingAndGlyphs">52</text>
<text transform="translate(618,678) rotate(-90)" dy="0.36em" font-size="20" textLength="88" lengthAdjust="spacingAndGlyphs">DDB100/30</text>
<text transform="translate(484,750) rotate(-90)" dy="0.36em" textLength="19" lengthAdjust="spacingAndGlyphs">25</text>
<text x="578" y="781" textLength="19" lengthAdjust="spacingAndGlyphs">12</text>
<text x="617" y="781" textLength="21" lengthAdjust="spacingAndGlyphs">30</text>
<text x="655" y="781" textLength="19" lengthAdjust="spacingAndGlyphs">12</text>
<text x="708" y="781" textLength="30" lengthAdjust="spacingAndGlyphs">132</text>
<text x="738" y="816" textLength="38" lengthAdjust="spacingAndGlyphs">67.5</text>
<text x="789" y="816" textLength="24" lengthAdjust="spacingAndGlyphs">3.5</text>
<text x="735" y="853" textLength="20" lengthAdjust="spacingAndGlyphs">71</text>
<text x="862" y="499" textLength="22" lengthAdjust="spacingAndGlyphs">90</text>
<text x="862" y="523" textLength="33" lengthAdjust="spacingAndGlyphs">200</text>
<text x="934" y="481" font-size="14" textLength="40" lengthAdjust="spacingAndGlyphs">Klingel</text>
<text transform="translate(886,502) rotate(-90)" dy="0.36em" font-size="16" textLength="22" lengthAdjust="spacingAndGlyphs">F90</text>
<text transform="translate(935,555) rotate(-90)" dy="0.36em" textLength="20" lengthAdjust="spacingAndGlyphs">25</text>
<text transform="translate(883,601) rotate(-90)" dy="0.36em" textLength="18" lengthAdjust="spacingAndGlyphs">10</text>
<text transform="translate(934,604) rotate(-90)" dy="0.36em" textLength="26" lengthAdjust="spacingAndGlyphs">3.5</text>
<text transform="translate(981,604) rotate(-90)" dy="0.36em" textLength="26" lengthAdjust="spacingAndGlyphs">3.5</text>
<text transform="translate(884,678) rotate(-90)" dy="0.36em" textLength="30" lengthAdjust="spacingAndGlyphs">164</text>
<text transform="translate(848,699) rotate(-90)" dy="0.36em" textLength="20" lengthAdjust="spacingAndGlyphs">66</text>
<text transform="translate(984,676) rotate(-90)" dy="0.36em" textLength="38" lengthAdjust="spacingAndGlyphs">45.5</text>
<text transform="translate(934,853) rotate(-90)" dy="0.36em" textLength="48" lengthAdjust="spacingAndGlyphs">511.5</text>
<text transform="translate(981,853) rotate(-90)" dy="0.36em" textLength="30" lengthAdjust="spacingAndGlyphs">366</text>
<text x="405" y="675" textLength="22" lengthAdjust="spacingAndGlyphs">80</text>
<text x="405" y="698" textLength="33" lengthAdjust="spacingAndGlyphs">200</text>
<text transform="translate(359,672) rotate(-90)" dy="0.36em" font-size="12" textLength="12" lengthAdjust="spacingAndGlyphs">SP</text>
<text transform="translate(330,771) rotate(-90)" dy="0.36em" textLength="22" lengthAdjust="spacingAndGlyphs">85</text>
<text transform="translate(353,776) rotate(-90)" dy="0.36em" textLength="33" lengthAdjust="spacingAndGlyphs">200</text>
<text transform="translate(449,850) rotate(-90)" dy="0.36em" textLength="48" lengthAdjust="spacingAndGlyphs">352.5</text>

<text x="164" y="902" font-size="35" textLength="87" lengthAdjust="spacingAndGlyphs">KOCHEN</text>
<text x="161" y="926" font-size="23" textLength="98" lengthAdjust="spacingAndGlyphs">STABPARKETT</text>
<text x="161" y="951" textLength="59" lengthAdjust="spacingAndGlyphs">5.46m2</text>
<text transform="translate(96,942) rotate(-90)" dy="0.36em" textLength="30" lengthAdjust="spacingAndGlyphs">491</text>
<text x="419" y="904" font-size="35" textLength="70" lengthAdjust="spacingAndGlyphs">ESSEN</text>
<text x="418" y="934" font-size="35" textLength="90" lengthAdjust="spacingAndGlyphs">WOHNEN</text>
<text x="417" y="959" font-size="23" textLength="100" lengthAdjust="spacingAndGlyphs">STABPARKETT</text>
<text x="417" y="982" textLength="68" lengthAdjust="spacingAndGlyphs">25.44m2</text>
<text x="201" y="1149" font-size="22" textLength="77" lengthAdjust="spacingAndGlyphs">STUK 240</text>
<text x="202" y="1174" font-size="22" textLength="59" lengthAdjust="spacingAndGlyphs">FPH 92</text>
<text transform="translate(309,1126) rotate(-90)" dy="0.36em" textLength="30" lengthAdjust="spacingAndGlyphs">100</text>
<text transform="translate(99,1193) rotate(-90)" dy="0.36em" textLength="20" lengthAdjust="spacingAndGlyphs">30</text>
<text transform="translate(99,1229) rotate(-90)" dy="0.36em" textLength="18" lengthAdjust="spacingAndGlyphs">12</text>
<text transform="translate(99,1273) rotate(-90)" dy="0.36em" textLength="30" lengthAdjust="spacingAndGlyphs">145</text>
<text transform="translate(189,1244) rotate(-90)" dy="0.36em" textLength="30" lengthAdjust="spacingAndGlyphs">159</text>
<text transform="translate(212,1243) rotate(-90)" dy="0.36em" textLength="30" lengthAdjust="spacingAndGlyphs">152</text>
<text x="203" y="1322" textLength="33" lengthAdjust="spacingAndGlyphs">400</text>
<text x="357" y="1234" font-size="22" textLength="26" lengthAdjust="spacingAndGlyphs">RR</text>
<text x="353" y="1254" textLength="47" lengthAdjust="spacingAndGlyphs">+5.30</text>
<text x="355" y="1339" textLength="42" lengthAdjust="spacingAndGlyphs">+5.28</text>
<text transform="translate(474,1068) rotate(-90)" dy="0.36em" textLength="20" lengthAdjust="spacingAndGlyphs">90</text>
<text transform="translate(496,1066) rotate(-90)" dy="0.36em" textLength="30" lengthAdjust="spacingAndGlyphs">230</text>
<text transform="translate(448,1092) rotate(-90)" dy="0.36em" font-size="22" textLength="18" lengthAdjust="spacingAndGlyphs">60</text>
<text transform="translate(449,1112) rotate(-90)" dy="0.36em" font-size="22" textLength="16" lengthAdjust="spacingAndGlyphs">12</text>
<text transform="translate(491,1119) rotate(-90)" dy="0.36em" textLength="19" lengthAdjust="spacingAndGlyphs">25</text>
<text transform="translate(449,1168) rotate(-90)" dy="0.36em" textLength="30" lengthAdjust="spacingAndGlyphs">100</text>
<text transform="translate(449,1265) rotate(-90)" dy="0.36em" textLength="30" lengthAdjust="spacingAndGlyphs">138</text>
<text transform="translate(488,1248) rotate(-90)" dy="0.36em" textLength="30" lengthAdjust="spacingAndGlyphs">225</text>
<text transform="translate(573,1151) rotate(-90)" dy="0.36em" textLength="30" lengthAdjust="spacingAndGlyphs">310</text>
<text transform="translate(596,1151) rotate(-90)" dy="0.36em" textLength="30" lengthAdjust="spacingAndGlyphs">260</text>
<text x="562" y="1238" font-size="35" textLength="73" lengthAdjust="spacingAndGlyphs">LOGGIA</text>
<text x="560" y="1263" font-size="23" textLength="115" lengthAdjust="spacingAndGlyphs">FEINSTEINZEUG</text>
<text x="560" y="1286" textLength="65" lengthAdjust="spacingAndGlyphs">14.43m2</text>
<text x="584" y="1324" textLength="31" lengthAdjust="spacingAndGlyphs">375</text>
<text x="783" y="1324" textLength="20" lengthAdjust="spacingAndGlyphs">30</text>
<text x="590" y="1073" font-size="22" textLength="77" lengthAdjust="spacingAndGlyphs">STUK 240</text>
<text x="976" y="1082" font-size="22" textLength="32" lengthAdjust="spacingAndGlyphs">STUK</text>
<text transform="translate(664,912) rotate(-90)" dy="0.36em" textLength="30" lengthAdjust="spacingAndGlyphs">356</text>
<text transform="translate(487,1349) rotate(-90)" dy="0.36em" font-size="22" textLength="9" lengthAdjust="spacingAndGlyphs">3</text>
<text x="215" y="1410" textLength="32" lengthAdjust="spacingAndGlyphs">402</text>
<text x="596" y="1412" textLength="35" lengthAdjust="spacingAndGlyphs">373</text>
<text x="802" y="1413" textLength="17" lengthAdjust="spacingAndGlyphs">10</text>
<text x="399" y="1466" font-size="44" textLength="22" lengthAdjust="spacingAndGlyphs">8</text>
<text x="404" y="1511" font-size="35" textLength="345" lengthAdjust="spacingAndGlyphs">3 ZIMMER WOHNUNG 76.60m2</text>
<text x="404" y="1545" font-size="35" textLength="320" lengthAdjust="spacingAndGlyphs">LOGGIA 11.49m2 (14.43m2)</text>
</g>

<g fill="none" stroke="#000" stroke-width="1.5">
<use href="#ox" x="223" y="266"/>
<use href="#ox" x="596" y="266"/>
<use href="#ox" x="161" y="544"/>
<use href="#ox" x="159" y="834"/>
</g>
</svg>
</body></html>
